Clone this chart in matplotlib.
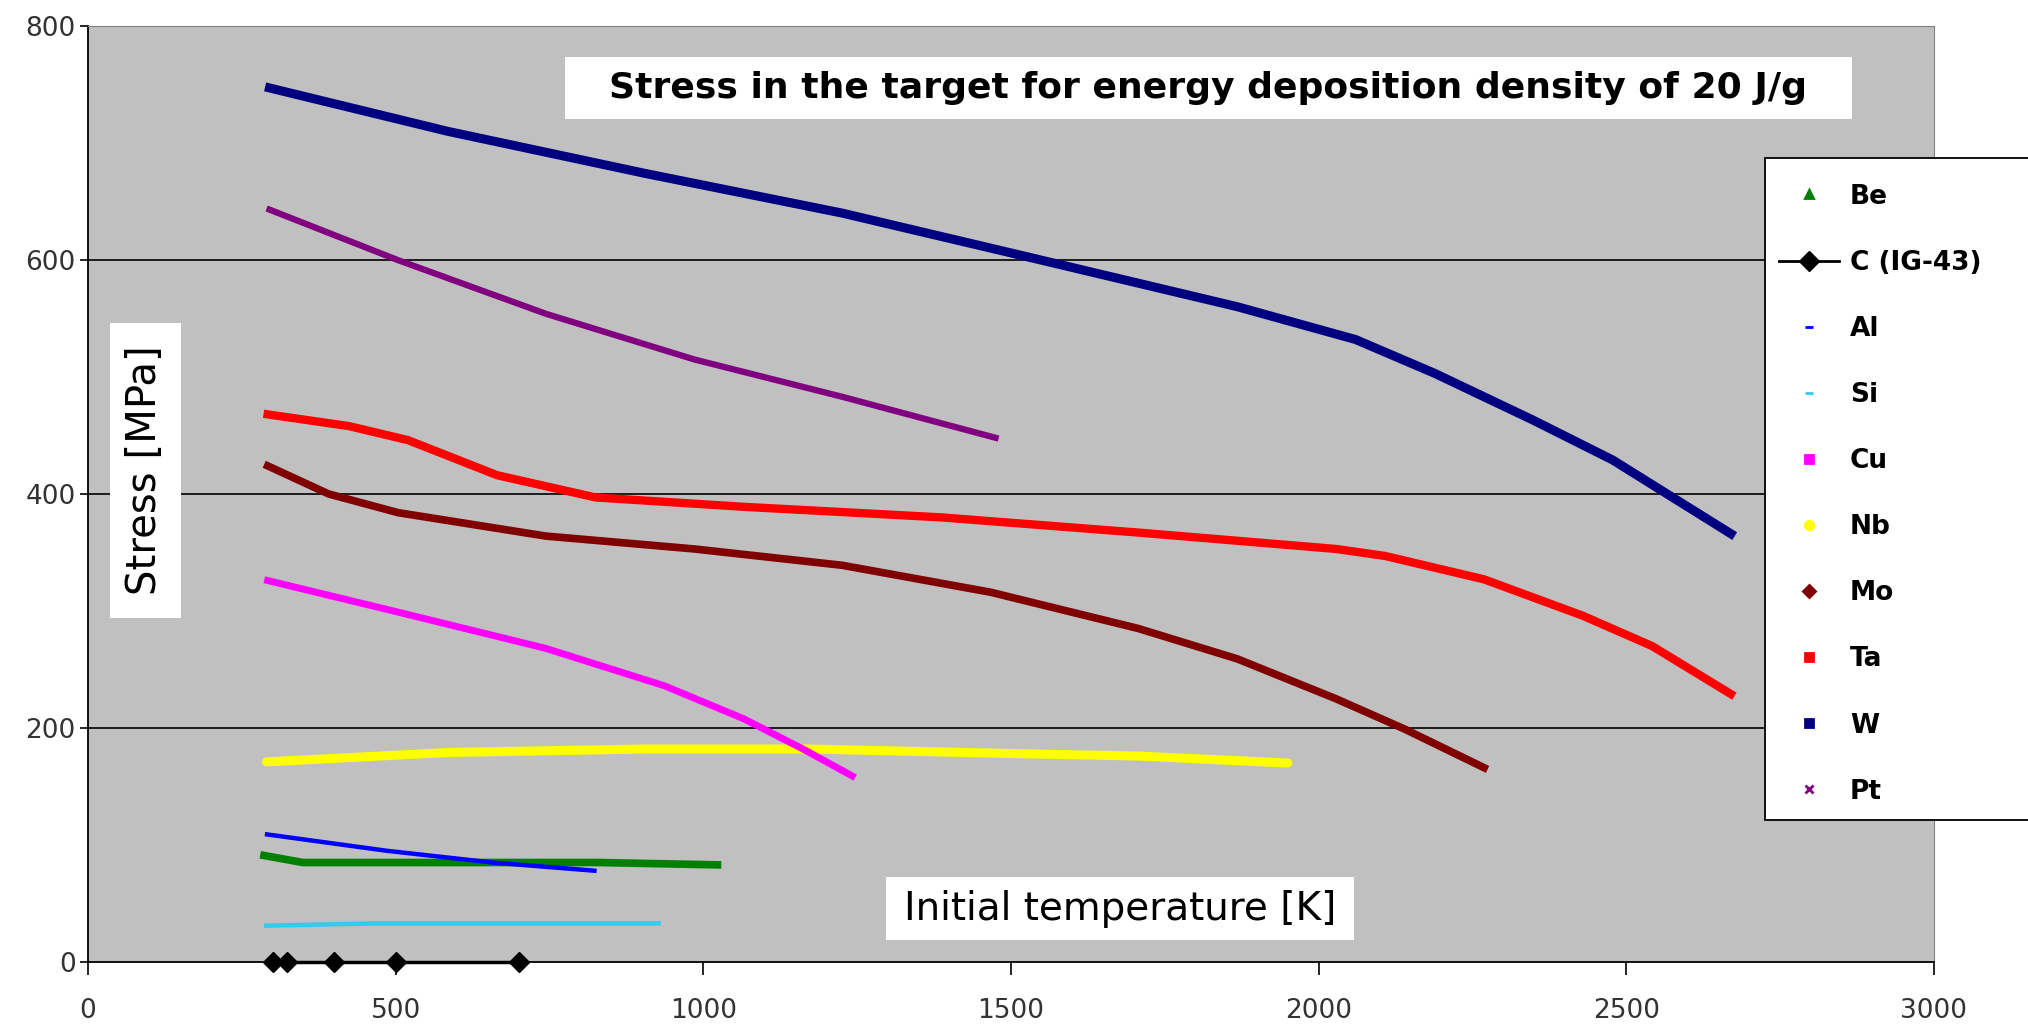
import matplotlib.pyplot as plt
from matplotlib.lines import Line2D
from matplotlib.patches import Rectangle

# data (initial temperature [K], stress [MPa])
be_t = [286, 349, 600, 829, 1023]
be_s = [91, 85, 85, 85, 83]
c_t = [300, 323, 400, 500, 700]
c_s = [0, 0, 0, 0, 0]
al_t = [291, 486, 657, 823]
al_s = [109, 95, 85, 78]
si_t = [286, 474, 931]
si_s = [31, 33, 33]
cu_t = [292, 504, 744, 937, 1065, 1162, 1242]
cu_s = [326, 299, 268, 236, 208, 182, 159]
nb_t = [290, 584, 905, 1171, 1514, 1707, 1950]
nb_s = [171, 179, 182, 182, 178, 176, 170]
mo_t = [292, 391, 504, 744, 985, 1226, 1467, 1707, 1868, 2028, 2140, 2269]
mo_s = [424, 400, 384, 364, 353, 339, 316, 285, 259, 225, 199, 166]
ta_t = [292, 424, 520, 665, 825, 1066, 1386, 1707, 2028, 2108, 2269, 2429, 2542, 2670]
ta_s = [468, 458, 446, 416, 397, 389, 380, 367, 353, 347, 327, 296, 270, 229]
w_t = [295, 584, 905, 1226, 1500, 1868, 2060, 2189, 2349, 2478, 2670]
w_s = [747, 710, 674, 640, 606, 560, 532, 503, 463, 429, 366]
pt_t = [295, 503, 744, 985, 1226, 1475]
pt_s = [643, 600, 554, 515, 483, 448]

labels = ['Be', 'C (IG-43)', 'Al', 'Si', 'Cu', 'Nb', 'Mo', 'Ta', 'W', 'Pt']
colors = ['#008000', '#000000', '#0000ff', '#33ccee', '#ff00ff', '#ffff00',
          '#800000', '#ff0000', '#000080', '#800080']
x_ticks = [0, 500, 1000, 1500, 2000, 2500, 3000]
y_ticks = [0, 200, 400, 600, 800]

fig = plt.figure(figsize=(20.28, 10.25), dpi=100)
ax = fig.add_axes([0.0434, 0.0615, 0.9102, 0.9132])
ax.set_facecolor('#c0c0c0')

for y in [200, 400, 600]:
    ax.axhline(y, color='black', lw=1.2, zorder=1)

ax.plot(si_t, si_s, color=colors[3], lw=3.2, solid_capstyle='butt', zorder=3)
ax.plot(be_t, be_s, color=colors[0], lw=5.5, zorder=3)
ax.plot(al_t, al_s, color=colors[2], lw=3.2, zorder=4)
ax.plot(nb_t, nb_s, color=colors[5], lw=6.5, solid_capstyle='round', zorder=3)
ax.plot(cu_t, cu_s, color=colors[4], lw=5, zorder=4)
ax.plot(mo_t, mo_s, color=colors[6], lw=5.5, zorder=3)
ax.plot(ta_t, ta_s, color=colors[7], lw=6, zorder=3)
ax.plot(pt_t, pt_s, color=colors[9], lw=4.5, zorder=3)
ax.plot(w_t, w_s, color=colors[8], lw=6.5, zorder=3)
ax.plot(c_t, c_s, color='black', lw=2.5, marker='D', markersize=10,
        zorder=5, clip_on=False)

ax.set_xlim(0, 3000)
ax.set_ylim(0, 800)
ax.set_xticks(x_ticks)
ax.set_yticks(y_ticks)
ax.tick_params(axis='x', direction='out', length=9, width=1.2, pad=17,
               labelsize=19)
ax.tick_params(axis='y', direction='out', length=6, width=1.2, pad=3,
               labelsize=19)
for lab in ax.get_xticklabels() + ax.get_yticklabels():
    lab.set_color('#333333')
ax.spines['left'].set_color('black')
ax.spines['bottom'].set_color('black')
ax.spines['left'].set_linewidth(1.3)
ax.spines['bottom'].set_linewidth(1.3)
ax.spines['top'].set_color('#808080')
ax.spines['right'].set_color('#808080')

# white boxes behind title and axis labels
for x0, y0, w, h in [(0.2786, 0.8839, 0.6346, 0.0605),
                     (0.0542, 0.3971, 0.0350, 0.2878),
                     (0.4369, 0.0829, 0.2308, 0.0615)]:
    fig.patches.append(Rectangle((x0, y0), w, h, transform=fig.transFigure,
                                 facecolor='white', edgecolor='none', zorder=8))
fig.text(0.5959, 0.9141, 'Stress in the target for energy deposition density of 20 J/g',
         ha='center', va='center', fontsize=26, fontweight='bold', zorder=10)
fig.text(0.0717, 0.541, 'Stress [MPa]', rotation=90, ha='center', va='center',
         fontsize=29, zorder=10)
fig.text(0.5523, 0.1136, 'Initial temperature [K]', ha='center', va='center',
         fontsize=28, zorder=10)

# legend box running off the right edge
fig.patches.append(Rectangle((0.8705, 0.2), 0.2, 0.646, transform=fig.transFigure,
                             facecolor='white', edgecolor='black', lw=1.3,
                             zorder=8))
markers = ['^', 'D', '_', '_', 's', 'o', 'D', 's', 's', 'x']
handles = []
for i, lab in enumerate(labels):
    if i == 1:
        h = Line2D([], [], color='black', lw=2, marker='D', markersize=10)
    else:
        h = Line2D([], [], color=colors[i], lw=0, marker=markers[i],
                   markersize=6, markeredgewidth=2)
    handles.append(h)
leg = fig.legend(handles, labels, loc='upper left', bbox_to_anchor=(0.8654, 0.844),
                 frameon=False, fontsize=19, labelspacing=1.52,
                 handlelength=2.3, handletextpad=0.4)
leg.set_zorder(9)
for t in leg.get_texts():
    t.set_fontweight('bold')

fig.savefig('out.png', dpi=100)
